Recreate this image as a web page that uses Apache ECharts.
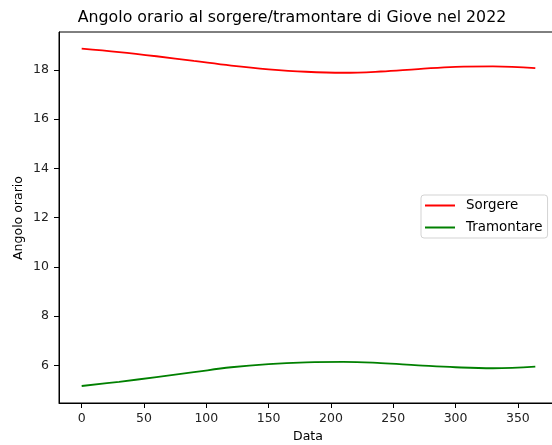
<!DOCTYPE html>
<html>
<head>
<meta charset="utf-8">
<script src="https://cdn.jsdelivr.net/npm/echarts@6/dist/echarts.min.js"></script>
<style>
  html, body { margin: 0; padding: 0; background: #fff; }
  #chart { width: 552px; height: 445px; }
</style>
</head>
<body>
<div id="chart"></div>
<script>
// Day of year 2022
const days = [0, 30, 60, 90, 120, 150, 180, 210, 240, 270, 300, 330, 364];
// Hour angle at rising (Sorgere) and setting (Tramontare) of Jupiter
const sorgere = [18.86, 18.72, 18.55, 18.36, 18.17, 18.02, 17.92, 17.88, 17.93, 18.03, 18.12, 18.14, 18.07];
const tramontare = [5.16, 5.33, 5.52, 5.72, 5.92, 6.05, 6.12, 6.14, 6.09, 6.00, 5.92, 5.88, 5.95];
const xTicks = [0, 50, 100, 150, 200, 250, 300, 350];
const yTicks = [6, 8, 10, 12, 14, 16, 18];

const FONT = 'DejaVu Sans';
const chart = echarts.init(document.getElementById('chart'), null, { renderer: 'canvas' });

const pairs = (xs, ys) => xs.map((x, i) => [x, ys[i]]);

chart.setOption({
  animation: false,
  backgroundColor: '#ffffff',
  title: {
    text: 'Angolo orario al sorgere/tramontare di Giove nel 2022',
    left: 287,
    top: 5,
    textAlign: 'center',
    textStyle: { fontFamily: FONT, fontSize: 15.8, fontWeight: 'normal', color: '#000' }
  },
  grid: {
    left: 59, top: 32, width: 499, height: 371,
    outerBoundsMode: 'none', containLabel: false,
    show: true, borderColor: '#000', borderWidth: 1, backgroundColor: 'transparent'
  },
  legend: {
    left: 421, top: 195, orient: 'vertical',
    backgroundColor: '#fff', borderColor: '#d3d3d3', borderWidth: 1, borderRadius: 3,
    padding: [3, 5, 3, 4], itemGap: 7,
    itemWidth: 30, itemHeight: 2, icon: 'rect',
    textStyle: { fontFamily: FONT, fontSize: 13.4, color: '#000', padding: [0, 0, 0, 6], lineHeight: 15 },
    data: ['Sorgere', 'Tramontare']
  },
  xAxis: {
    type: 'value', min: -18.2, max: 382.2,
    axisLine: { show: true, onZero: false, lineStyle: { color: '#000', width: 1 } },
    axisTick: { show: true, length: 5, lineStyle: { color: '#000' }, customValues: xTicks },
    axisLabel: { fontFamily: FONT, fontSize: 12.5, color: '#222', margin: 9, customValues: xTicks },
    splitLine: { show: false }
  },
  yAxis: {
    type: 'value', min: 4.469, max: 19.535,
    axisLine: { show: true, onZero: false, lineStyle: { color: '#000', width: 1 } },
    axisTick: { show: true, length: 5, lineStyle: { color: '#000' }, customValues: yTicks },
    axisLabel: { fontFamily: FONT, fontSize: 12.5, color: '#222', margin: 10, customValues: yTicks },
    splitLine: { show: false }
  },
  graphic: [
    {
      type: 'text', x: 19, y: 218, rotation: Math.PI / 2,
      style: { text: 'Angolo orario', font: '12.5px "DejaVu Sans"', fill: '#000', align: 'center', verticalAlign: 'middle' }
    },
    {
      type: 'text', x: 308, y: 437,
      style: { text: 'Data', font: '12.5px "DejaVu Sans"', fill: '#000', align: 'center', verticalAlign: 'middle' }
    }
  ],
  series: [
    {
      name: 'Sorgere', type: 'line', smooth: 0.4, showSymbol: false,
      color: '#ff0000', lineStyle: { width: 1.8, color: '#ff0000' },
      data: pairs(days, sorgere)
    },
    {
      name: 'Tramontare', type: 'line', smooth: 0.4, showSymbol: false,
      color: '#008000', lineStyle: { width: 1.8, color: '#008000' },
      data: pairs(days, tramontare)
    }
  ]
});
</script>
</body>
</html>
